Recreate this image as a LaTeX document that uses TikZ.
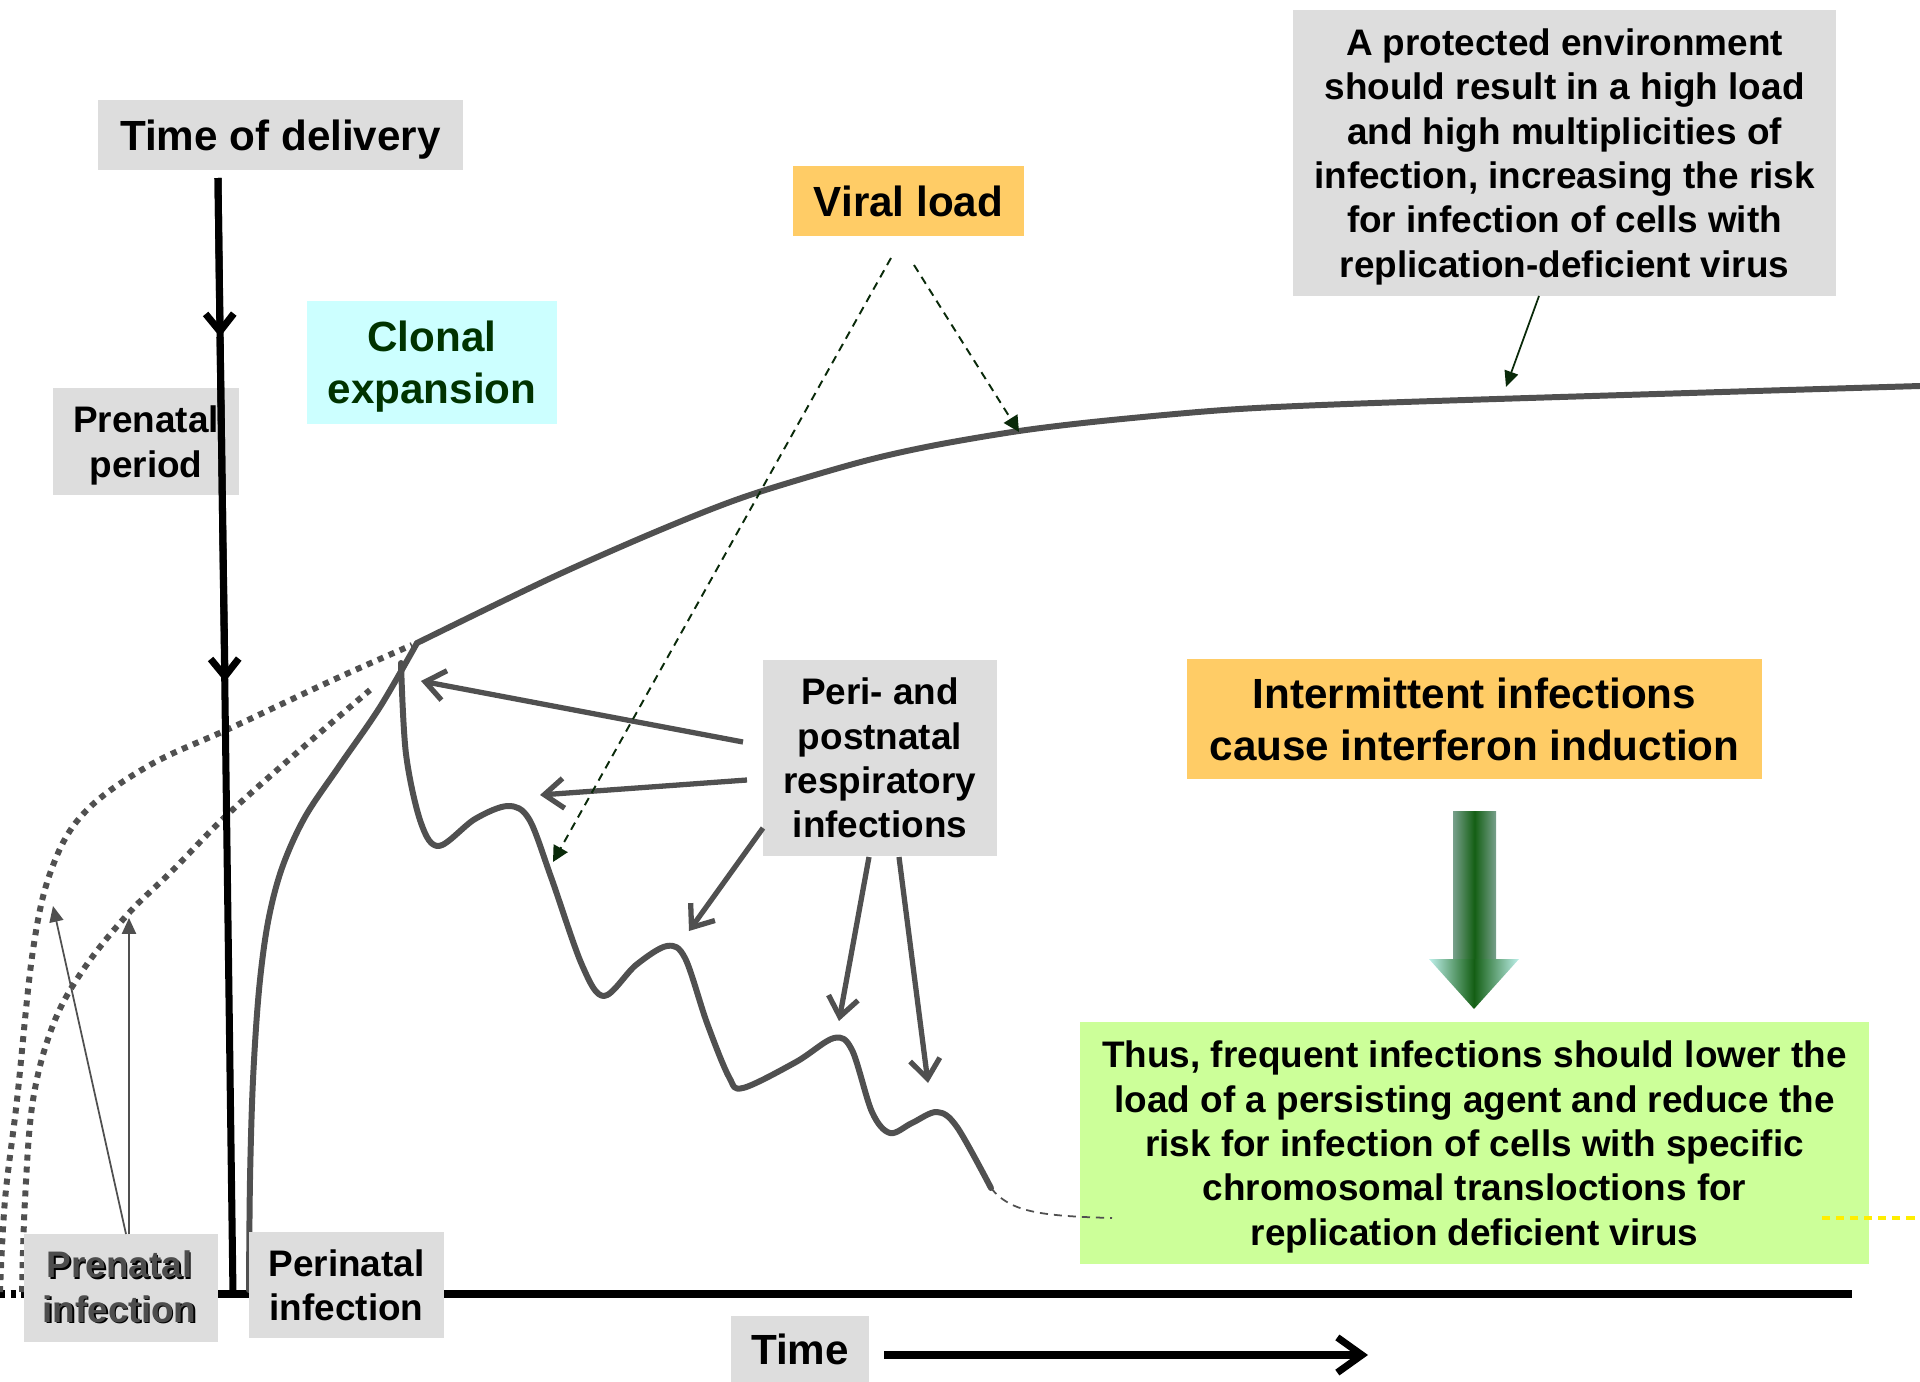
\documentclass[tikz,border=0pt]{standalone}
\usepackage{fontspec}
\setmainfont{Liberation Sans}
\usetikzlibrary{arrows.meta}
\definecolor{boxgray}{HTML}{DDDDDD}
\definecolor{boxorange}{HTML}{FFCC66}
\definecolor{boxcyan}{HTML}{CCFFFF}
\definecolor{boxgreen}{HTML}{CCFF99}
\definecolor{curvegray}{HTML}{505050}
\definecolor{clonalgreen}{HTML}{003300}
\definecolor{arrowgreen}{HTML}{0A2A0A}
\definecolor{gaedge}{RGB}{120,160,140}
\definecolor{gamid}{RGB}{20,95,20}
\definecolor{gahead}{RGB}{190,240,235}
\definecolor{pretext}{HTML}{4D4D4D}
\definecolor{dashyellow}{HTML}{FFEE00}
\begin{document}
\begin{tikzpicture}[x=0.01cm,y=-0.01cm,
  lbl/.style={inner sep=0pt, align=center, text depth=0pt},
  big/.style={font=\fontsize{12}{14.7}\selectfont\bfseries},
  med/.style={font=\fontsize{10.5}{12.6}\selectfont\bfseries},
  graybox/.style={lbl, fill=boxgray},
  orangebox/.style={lbl, fill=boxorange},
  cyanbox/.style={lbl, fill=boxcyan},
  greenbox/.style={lbl, fill=boxgreen},
  curve/.style={curvegray, line width=1.7pt, line cap=round, line join=round},
  dotcurve/.style={curvegray, line width=1.7pt, dash pattern=on 1.7pt off 1.7pt},
  blk/.style={black, line width=2pt},
  barbbig/.style={-{Straight Barb[length=5pt,width=8pt]}},
  periarrow/.style={curvegray, line width=1.5pt, -{Straight Barb[length=5.5pt,width=8.5pt]}},
  viralarrow/.style={arrowgreen, line width=0.55pt, dash pattern=on 2.3pt off 1.7pt, -{Triangle[length=4.5pt,width=4.5pt]}},
  thinarrow/.style={line width=0.5pt, -{Triangle[length=4.5pt,width=4pt]}}
]
\useasboundingbox (0,0) rectangle (1920,1382);

% ---------- axis ----------
\coordinate (axL) at (0,1294);
\coordinate (axM) at (24,1294);
\coordinate (axR) at (1852,1294);
\draw[black, line width=2pt, dash pattern=on 1.5pt off 1.5pt] (axL) -- (axM);
\draw[blk] (axM) -- (axR);

% ---------- curves ----------
\draw[dotcurve] plot[smooth, tension=0.6] coordinates {(0,1292) (5,1200) (17,1100) (33,950) (52,868) (85,812) (150,765) (233,727) (333,680) (412,645)};
\draw[dotcurve] plot[smooth, tension=0.6] coordinates {(22,1292) (25,1200) (33,1100) (53,1025) (83,970) (127,915) (173,870) (227,815) (300,750) (370,690)};
\draw[curve] plot[smooth, tension=0.55] coordinates {(249,1290) (250,1180) (253,1080) (259,990) (268,922) (282,868) (305,817) (340,765) (380,707) (417,643)};
\draw[curve] plot[smooth, tension=0.5] coordinates {(417,643) (551,578) (660,530) (747,496) (857,463) (931,446) (1019,431) (1102,421) (1224,410) (1347,404) (1592,396) (1920,386)};
\draw[curve] plot[smooth, tension=0.55] coordinates {(401,663) (406,754) (421,823) (439,846) (475,819) (508,806) (529,819) (551,877) (582,965) (604,996) (636,965) (667,946) (685,958) (707,1023) (729,1077) (743,1088) (796,1062) (834,1038) (852,1050) (872,1112) (890,1133) (912,1123) (937,1112) (957,1127) (991,1188)};

% ---------- boxes ----------
\node[graybox,big,minimum width=3.65cm,minimum height=0.70cm] (deliv) at (280.5,135) {Time of delivery};
\node[graybox,med,minimum width=1.86cm,minimum height=1.07cm] (prenper) at (146,441.5) {Prenatal\\period};
\node[cyanbox,big,text=clonalgreen,minimum width=2.50cm,minimum height=1.23cm] (clonal) at (432,362.5) {Clonal\\expansion};
\node[orangebox,big,minimum width=2.31cm,minimum height=0.70cm] (viral) at (908.5,201) {Viral load};
\node[graybox,med,minimum width=5.43cm,minimum height=2.86cm] (protect) at (1564.5,153) {A protected environment\\should result in a high load\\and high multiplicities of\\infection, increasing the risk\\for infection of cells with\\replication-deficient virus};
\node[graybox,med,minimum width=2.34cm,minimum height=1.96cm] (peri) at (880,758) {Peri- and\\postnatal\\respiratory\\infections};
\node[orangebox,big,minimum width=5.75cm,minimum height=1.20cm] (interm) at (1474.5,719) {Intermittent infections\\cause interferon induction};
\node[greenbox,med,minimum width=7.89cm,minimum height=2.42cm] (thus) at (1474.5,1143) {Thus, frequent infections should lower the\\load of a persisting agent and reduce the\\risk for infection of cells with specific\\chromosomal transloctions for\\replication deficient virus};
\node[graybox,med,text=black,minimum width=1.94cm,minimum height=1.08cm] (preninf) at (121,1288) {Prenatal\\infection};
\node[lbl,med,text=pretext] (preninftxt) at (119.6,1286.6) {Prenatal\\infection};
\node[graybox,med,minimum width=1.95cm,minimum height=1.06cm] (perinf) at (346.5,1285) {Perinatal\\infection};
\node[graybox,big,minimum width=1.38cm,minimum height=0.67cm] (timelbl) at (800,1349.5) {Time};

% ---------- delivery line ----------
\coordinate (dtop) at (218,178);
\coordinate (da1) at (220,337);
\coordinate (da2) at (225,682);
\coordinate (dbot) at (233,1294);
\draw[blk] (dtop) -- (dbot);
\draw[blk,barbbig] (dtop) -- (da1);
\draw[blk,barbbig] (da1) -- (da2);

% ---------- time arrow ----------
\coordinate (tstart) at (884,1355);
\coordinate (tend) at (1368,1355);
\draw[blk,-{Straight Barb[length=7pt,width=10pt]}] (tstart) -- (tend);

% ---------- peri arrows ----------
\coordinate (pa1) at (743,742);  \coordinate (pt1) at (421,681);
\coordinate (pa2) at (747,780);  \coordinate (pt2) at (540,795);
\coordinate (pa3) at (763,828);  \coordinate (pt3) at (689,931);
\coordinate (pa4) at (869,857);  \coordinate (pt4) at (839,1021);
\coordinate (pa5) at (899,857);  \coordinate (pt5) at (928,1083);
\draw[periarrow] (pa1) -- (pt1);
\draw[periarrow] (pa2) -- (pt2);
\draw[periarrow] (pa3) -- (pt3);
\draw[periarrow] (pa4) -- (pt4);
\draw[periarrow] (pa5) -- (pt5);

% ---------- viral load arrows ----------
\coordinate (va1) at (891,258); \coordinate (vt1) at (553,862);
\coordinate (va2) at (914,265); \coordinate (vt2) at (1019,432);
\draw[viralarrow] (va1) -- (vt1);
\draw[viralarrow] (va2) -- (vt2);

% ---------- protected arrow ----------
\coordinate (pra) at (1539,296); \coordinate (prt) at (1506,387);
\draw[thinarrow, arrowgreen] (pra) -- (prt);

% ---------- prenatal infection arrows ----------
\coordinate (pia) at (126,1234);
\coordinate (pib) at (129,1234);
\coordinate (pit1) at (53,906);
\coordinate (pit2) at (129,918);
\draw[thinarrow, curvegray] (pia) -- (pit1);
\draw[thinarrow, curvegray] (pib) -- (pit2);

% ---------- dashed continuations ----------
\draw[curvegray, line width=0.5pt, dash pattern=on 2.3pt off 1.7pt] (991,1188) .. controls (1010,1212) and (1040,1216) .. (1112,1218);
\draw[dashyellow, line width=1pt, dash pattern=on 2.3pt off 1.7pt] (1822,1218) -- (1920,1218);

% ---------- green block arrow ----------
\shade[left color=gaedge, right color=gaedge, middle color=gamid] (1453,811) rectangle (1496,960);
\shade[left color=gahead, right color=gahead, middle color=gamid] (1429,959) -- (1519,959) -- (1474,1009) -- cycle;
\end{tikzpicture}
\end{document}
